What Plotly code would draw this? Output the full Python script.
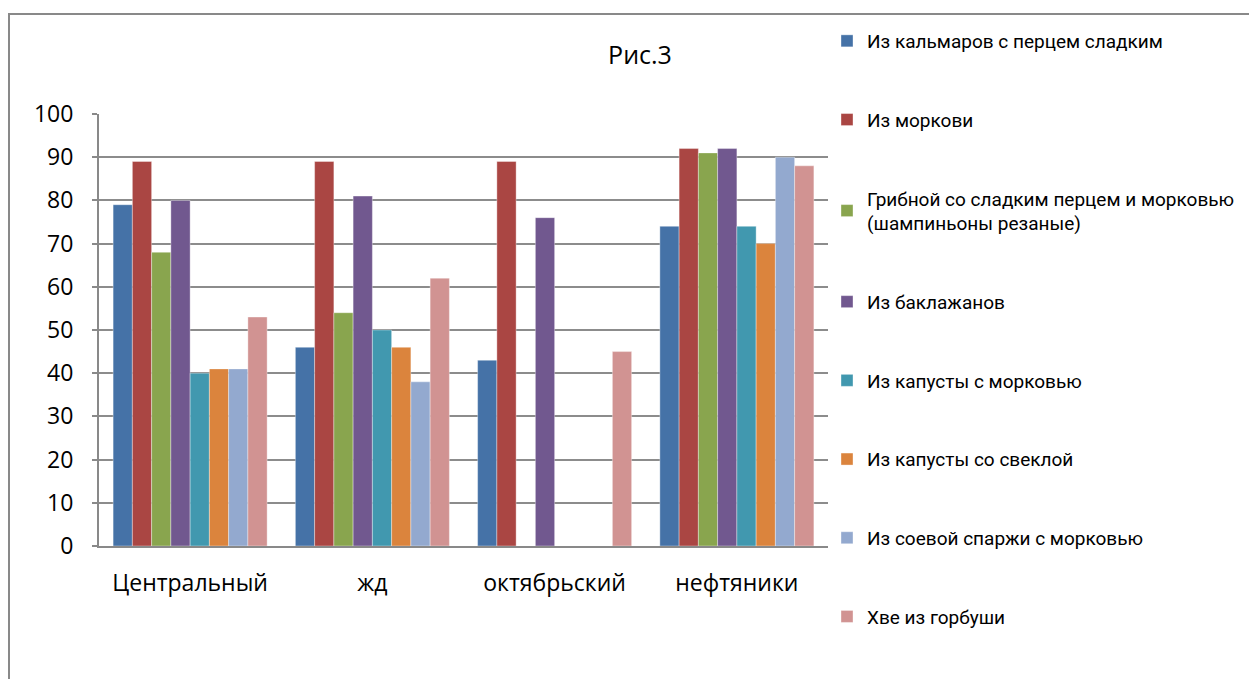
import plotly.graph_objects as go

categories = ["Центральный", "жд", "октябрьский", "нефтяники"]

series_names = [
    "Из кальмаров с перцем сладким",
    "Из моркови",
    "Грибной со сладким перцем и морковью<br>(шампиньоны резаные)",
    "Из баклажанов",
    "Из капусты с морковью",
    "Из капусты со свеклой",
    "Из соевой спаржи с морковью",
    "Хве из горбуши",
]

kalmar = [79, 46, 43, 74]
morkov = [89, 89, 89, 92]
gribnoy = [68, 54, None, 91]
baklazhan = [80, 81, 76, 92]
kapusta_morkov = [40, 50, None, 74]
kapusta_svekla = [41, 46, None, 70]
soya = [41, 38, None, 90]
hve = [53, 62, 45, 88]

series_values = [kalmar, morkov, gribnoy, baklazhan, kapusta_morkov, kapusta_svekla, soya, hve]

colors = ["#4572A7", "#AA4643", "#89A54E", "#71588F", "#4198AF", "#DB843D", "#93A9CF", "#D19392"]

y_ticks = [0, 10, 20, 30, 40, 50, 60, 70, 80, 90, 100]

fig = go.Figure()
for i, (name, vals) in enumerate(zip(series_names, series_values)):
    fig.add_trace(go.Bar(
        x=categories, y=vals, name=name,
        marker=dict(color=colors[i], line=dict(color="rgba(255,255,255,0.6)", width=0.6)),
        legendgroup=f"g{i}",
    ))

OFF = 8  # page body margin
W, H = 1249, 671
# target window-pixel positions of plot area
L, R, T, B = 99 - OFF, 828 - OFF, 114 - OFF, 546 - OFF
pw, ph = R - L, B - T

def px_x(x):
    return (x - OFF - L) / pw

def px_y(y):
    return (B - (y - OFF)) / ph

fig.update_layout(
    width=W, height=H,
    margin=dict(l=L, r=W - R, t=T, b=H - B, autoexpand=False),
    paper_bgcolor="white", plot_bgcolor="white",
    barmode="group", bargap=0.155, bargroupgap=0,
    font=dict(family="Open Sans, Noto Sans, sans-serif", size=23, color="black"),
    title=dict(text="Рис.3", x=(640 - OFF) / W, xanchor="center", y=1 - (55 - OFF) / H, yanchor="middle",
               font=dict(family="Open Sans, Noto Sans, sans-serif", size=25, color="black")),
    legend=dict(
        x=px_x(827), xanchor="left", y=px_y(22), yanchor="top",
        font=dict(family="Roboto, sans-serif", size=19, color="black"),
        tracegroupgap=51, bgcolor="rgba(0,0,0,0)", itemclick=False,
        maxheight=700,
    ),
    showlegend=True,
    xaxis=dict(
        showline=True, linecolor="#898989", linewidth=2,
        ticks="", ticklabelstandoff=15,
        tickfont=dict(size=23),
    ),
    yaxis=dict(
        range=[0, 100], tickvals=y_ticks, ticktext=[str(v) for v in y_ticks],
        showline=True, linecolor="#898989", linewidth=2,
        showgrid=True, gridcolor="#8c8c8c", gridwidth=2,
        ticks="outside", ticklen=5, tickcolor="#898989", tickwidth=2,
        ticklabelstandoff=14, tickfont=dict(size=23),
        zeroline=False,
    ),
    shapes=[dict(
        type="rect", xref="paper", yref="paper",
        x0=px_x(9), x1=px_x(1320), y0=px_y(720), y1=px_y(14),
        line=dict(color="#898989", width=2), fillcolor="rgba(0,0,0,0)", layer="below",
    )],
)

fig.write_html("out.html")
